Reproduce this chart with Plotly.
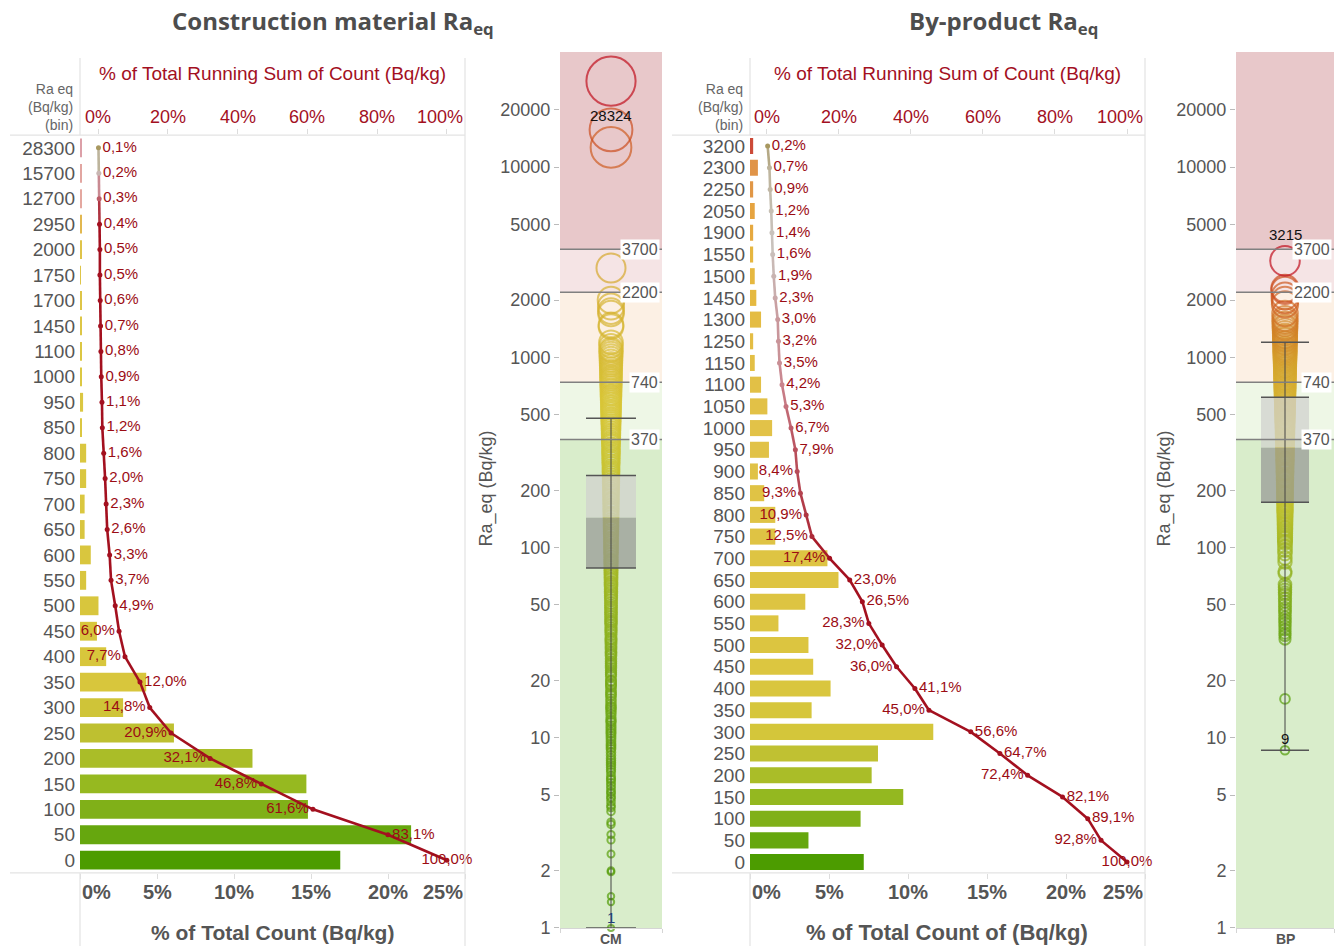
import numpy as np
import plotly.graph_objects as go
from plotly.colors import sample_colorscale

W, H = 1336, 946          # reference picture size (pixel coordinates used below)
FIG_H = 957               # rendered figure height (the capture is squeezed to 946)

# ---------------- DATA ----------------
# Construction material (CM) histogram, bins listed top -> bottom
cm_bins = [28300, 15700, 12700, 2950, 2000, 1750, 1700, 1450, 1100, 1000, 950, 850, 800,
           750, 700, 650, 600, 550, 500, 450, 400, 350, 300, 250, 200, 150, 100, 50, 0]
cm_pct = [0.1, 0.1, 0.1, 0.1, 0.1, 0.05, 0.1, 0.1, 0.1, 0.1, 0.2, 0.1, 0.4, 0.4, 0.3, 0.3,
          0.7, 0.4, 1.2, 1.1, 1.7, 4.3, 2.8, 6.1, 11.2, 14.7, 14.8, 21.5, 16.9]
cm_running = [0.1, 0.2, 0.3, 0.4, 0.5, 0.5, 0.6, 0.7, 0.8, 0.9, 1.1, 1.2, 1.6, 2.0, 2.3, 2.6,
              3.3, 3.7, 4.9, 6.0, 7.7, 12.0, 14.8, 20.9, 32.1, 46.8, 61.6, 83.1, 100.0]

# By-product (BP) histogram, bins listed top -> bottom
bp_bins = [3200, 2300, 2250, 2050, 1900, 1550, 1500, 1450, 1300, 1250, 1150, 1100, 1050, 1000,
           950, 900, 850, 800, 750, 700, 650, 600, 550, 500, 450, 400, 350, 300, 250, 200, 150,
           100, 50, 0]
bp_pct = [0.2, 0.5, 0.2, 0.3, 0.2, 0.2, 0.3, 0.4, 0.7, 0.2, 0.3, 0.7, 1.1, 1.4, 1.2, 0.5, 0.9,
          1.6, 1.6, 4.9, 5.6, 3.5, 1.8, 3.7, 4.0, 5.1, 3.9, 11.6, 8.1, 7.7, 9.7, 7.0, 3.7, 7.2]
bp_running = [0.2, 0.7, 0.9, 1.2, 1.4, 1.6, 1.9, 2.3, 3.0, 3.2, 3.5, 4.2, 5.3, 6.7, 7.9, 8.4,
              9.3, 10.9, 12.5, 17.4, 23.0, 26.5, 28.3, 32.0, 36.0, 41.1, 45.0, 56.6, 64.7, 72.4,
              82.1, 89.1, 92.8, 100.0]

# Individual Ra_eq values (Bq/kg)
cm_values = [1.0, 1.37, 1.47, 1.97, 2.0, 2.45, 2.9, 3.1, 3.5, 3.6, 4.1, 4.3, 4.6, 4.8, 5.1, 5.4,
             5.6, 6.0, 6.3, 6.6, 7.0, 7.4, 7.8, 8.1, 8.7, 9.1, 9.6, 10.2, 10.7, 11.3, 12.0, 12.4,
             13.3, 14.1, 14.6, 15.5, 16.6, 17.3, 18.5, 19.2, 19.8, 21.5, 22.6, 24.0, 25.2, 27.0,
             28.3, 30.1, 32.0, 33.5, 36.0, 37.8, 40.2, 42.0, 44.6, 47.0, 49.5, 53.0, 55.8, 59.0,
             62.4, 65.5, 70.0, 73.8, 78.0, 82.5, 86.0, 92.0, 97.0, 102, 108, 115, 121, 128, 135,
             144, 151, 160, 170, 179, 190, 200, 212, 223, 236, 250, 262, 279, 295, 312, 330, 352,
             368, 390, 412, 436, 460, 485, 515, 545, 578, 610, 640, 680, 720, 762, 800, 850, 905,
             960, 1020, 1050, 1080, 1100, 1150, 1200, 1450, 1480, 1700, 1750, 1850, 2000, 2950,
             12700, 15700, 28324,
             4.4, 4.9, 5.2, 5.8, 6.1, 6.8, 7.2, 7.6, 8.4, 8.9, 9.3, 9.9, 10.5, 11.0, 11.6, 12.2,
             12.8, 13.7, 14.4, 15.0, 16.0, 16.9, 17.8, 18.9, 20.0, 21.0, 22.0, 23.3, 24.6, 26.0,
             27.6, 29.2, 31.0, 32.8, 34.8, 36.9, 39.0, 41.0, 43.3, 45.8, 48.2, 51.0, 54.5, 57.5,
             60.5, 64.0, 68.0, 72.0, 76.0, 80.0, 84.5, 89.0, 94.5, 99.5, 105, 111, 118, 125, 131,
             139, 148, 156, 165, 175, 185, 195, 206, 218, 230, 243, 256, 271, 287, 304, 321, 340,
             360, 380, 400, 424, 448, 472, 500, 530, 560, 594, 626, 660, 700, 740, 780, 825, 875,
             930, 990]
bp_values = [8.6, 16.0, 33.0, 34.5, 35.5, 37.0, 38.5, 40.0, 41.5, 43.0, 45.0, 46.5, 48.0, 50.0,
             52.0, 54.0, 56.5, 58.0, 60.0, 62.0, 64.0, 73.0, 75.0, 84.0, 88.0, 93.0, 97.0, 101,
             106, 111, 116, 122, 127, 134, 140, 146, 153, 158, 166, 172, 180, 189, 196, 206, 214,
             225, 233, 246, 255, 269, 281, 290, 306, 317, 333, 345, 362, 375, 393, 407, 426, 442,
             462, 479, 501, 519, 542, 562, 587, 609, 636, 659, 688, 714, 745, 773, 806, 836, 873,
             905, 945, 980, 1020, 1060, 1100, 1150, 1200, 1250, 1300, 1380, 1450, 1550, 1600,
             1700, 1900, 2000, 2100, 2250, 2300, 3215,
             108, 113, 119, 125, 131, 137, 143, 150, 156, 162, 169, 176, 184, 192, 201, 210, 219,
             229, 240, 250, 262, 275, 286, 298, 311, 325, 339, 354, 368, 384, 400, 417, 434, 452,
             470, 490, 510, 530, 552, 575, 598, 622, 648, 674, 701, 730, 760, 790, 820, 855, 890,
             925, 962, 1000, 1040, 1080, 1120, 1180, 1230, 1280, 1340, 1420, 1500]

# Box-plot statistics (Bq/kg)
cm_box = {"low": 1.0, "q1": 78, "median": 144, "q3": 239, "high": 478}
bp_box = {"low": 8.6, "q1": 173, "median": 336, "q3": 616, "high": 1200}

# Reference thresholds (Bq/kg)
ref_lines = [370, 740, 2200, 3700]

# Axis tick labels
bar_ticks = [0, 5, 10, 15, 20, 25]
run_ticks = [0, 20, 40, 60, 80, 100]
log_ticks = [1, 2, 5, 10, 20, 50, 100, 200, 500, 1000, 2000, 5000, 10000, 20000]

# Which running-sum labels sit left / centered on their point
cm_left_bins = [450, 400, 300, 250, 200, 150, 100]
bp_left_bins = [900, 850, 800, 750, 700, 550, 500, 450, 350, 200, 50]
center_bins = [0]

# ---------------- STYLE HELPERS ----------------
GREY = "#555555"
RED_TXT = "#9b0c14"
RED_AX = "#a3101f"
FRAME = "#e3e3e3"


def hx(c):
    c = c.lstrip("#")
    return [int(c[i:i + 2], 16) for i in (0, 2, 4)]


def interp_colors(anchors, vals):
    xs = [a[0] for a in anchors]
    rgb = np.array([hx(a[1]) for a in anchors], dtype=float)
    out = []
    for v in vals:
        r, g, b = (np.interp(v, xs, rgb[:, k]) for k in range(3))
        out.append(f"rgb({int(r)},{int(g)},{int(b)})")
    return out


cm_bar_anchors = [(0, "#4c9c00"), (50, "#66a70e"), (100, "#80b018"), (150, "#96b920"),
                  (200, "#aabd28"), (250, "#bec030"), (300, "#cfc438"), (350, "#d8c63c"),
                  (1000, "#dcc843"), (2000, "#dfc44a"), (2950, "#e2b850"), (12700, "#e4a8a0"),
                  (28300, "#dca0a8")]
bp_bar_anchors = [(0, "#4c9c00"), (50, "#66a70e"), (100, "#80b018"), (150, "#94b820"),
                  (200, "#aabd28"), (250, "#c0c132"), (300, "#d4c63a"), (450, "#dcc640"),
                  (1000, "#e2c248"), (1500, "#e6b840"), (2050, "#e6a440"), (2300, "#e09448"),
                  (3200, "#cc4a38")]

point_scale = [[0.0, "#4e9a06"], [0.25, "#6aa512"], [0.40, "#9cb520"], [0.52, "#c4c22e"],
               [0.62, "#d8c636"], [0.72, "#d6b432"], [0.80, "#d4a42c"], [0.88, "#d27a26"],
               [0.94, "#cc5020"], [1.0, "#c0101e"]]
run_scale = [[0.0, "#a89860"], [0.45, "#c9c3bd"], [0.7, "#c9808a"], [1.0, "#a3101f"]]


def point_colors(vals):
    lv = np.log10(vals)
    t = (lv - lv.min()) / (lv.max() - lv.min())
    return sample_colorscale(point_scale, list(np.clip(t, 0, 1)))


def run_t(v, lo, hi):
    return float(np.clip((np.log(v) - np.log(lo)) / (np.log(hi) - np.log(lo)), 0, 1))


def px(x):
    return x / W


def py(y):
    return 1 - y / H


fig = go.Figure()
annotations = []
shapes = []


def note(**kw):
    kw.setdefault("showarrow", False)
    kw.setdefault("xanchor", "center")
    kw.setdefault("yanchor", "middle")
    annotations.append(kw)


def bar_panel(bins, pct, running, xa, xa2, ya, anchors, left_bins, lo, hi, x0, x1, run_rng):
    labels = [str(b) for b in bins]
    fig.add_trace(go.Bar(x=pct, y=labels, orientation="h", xaxis=xa, yaxis=ya, width=0.74,
                         marker=dict(color=interp_colors(anchors, bins), line_width=0),
                         hoverinfo="skip", showlegend=False))
    for i in range(len(running) - 1):
        mid = (running[i] + running[i + 1]) / 2
        col = sample_colorscale(run_scale, [run_t(mid, lo, hi)])[0]
        fig.add_trace(go.Scatter(x=running[i:i + 2], y=labels[i:i + 2], mode="lines",
                                 xaxis=xa2, yaxis=ya, line=dict(color=col, width=2.6),
                                 hoverinfo="skip", showlegend=False, cliponaxis=False))
    cols = sample_colorscale(run_scale, [run_t(v, lo, hi) for v in running])
    pos = []
    for b in bins:
        if b in center_bins:
            pos.append("middle center")
        elif b in left_bins:
            pos.append("middle left")
        else:
            pos.append("middle right")
    texts = [f"{v:.1f}%".replace(".", ",") for v in running]
    fig.add_trace(go.Scatter(x=running, y=labels, mode="markers+text", xaxis=xa2, yaxis=ya,
                             marker=dict(size=5, color=cols), text=texts, textposition=pos,
                             textfont=dict(size=15, color=RED_TXT),
                             hoverinfo="skip", showlegend=False, cliponaxis=False))
    # tick labels (kept inside the axis like the original)
    for i, t in enumerate(bar_ticks):
        anc = "left" if i == 0 else ("right" if i == len(bar_ticks) - 1 else "center")
        note(x=t, y=py(891), xref=xa, yref="paper", text=f"<b>{t}%</b>", xanchor=anc,
             font=dict(size=20, color=GREY))
    for i, t in enumerate(run_ticks):
        if i == len(run_ticks) - 1:
            note(x=run_rng[1], y=py(117), xref=xa2, yref="paper", text=f"{t}%",
                 xanchor="right", font=dict(size=18, color=RED_AX))
        else:
            note(x=t, y=py(117), xref=xa2, yref="paper", text=f"{t}%",
                 font=dict(size=18, color=RED_AX))
    cx = (x0 + x1) / 2
    note(x=px(cx), y=py(73), xref="paper", yref="paper",
         text="% of Total Running Sum of Count (Bq/kg)", font=dict(size=19, color=RED_AX))
    note(x=px(x0 - 5), y=py(107), xref="paper", yref="paper",
         text="Ra eq<br>(Bq/kg)<br>(bin)", xanchor="right", align="right",
         font=dict(size=14, color="#666666"))
    return labels


cm_labels = bar_panel(cm_bins, cm_pct, cm_running, "x", "x2", "y", cm_bar_anchors,
                      cm_left_bins, 0.1, 0.4, 80, 465, (-5.2, 105.2))
bp_labels = bar_panel(bp_bins, bp_pct, bp_running, "x3", "x4", "y3", bp_bar_anchors,
                      bp_left_bins, 0.2, 17, 750, 1145, (-4.7, 105.0))

note(x=px(272), y=py(932), xref="paper", yref="paper",
     text="<b>% of Total Count (Bq/kg)</b>", font=dict(size=21, color=GREY))
note(x=px(947), y=py(932), xref="paper", yref="paper",
     text="<b>% of Total Count of (Bq/kg)</b>", font=dict(size=22, color=GREY))

# ---------------- BOX / STRIP PANELS ----------------
LOG_TOP = 4.605
band_edges = [1, 370, 740, 2200, 3700, 10 ** LOG_TOP]
band_colors = ["#d9edcb", "#eef7e6", "#fcf0e4", "#f5e4e5", "#e8c8ca"]
HALF = 0.245


def box_panel(vals, box, xa, ya, name, max_label_shift, min_label_shift, min_color):
    vals = np.array(vals, dtype=float)
    for k in range(len(band_colors)):
        shapes.append(dict(type="rect", xref=f"{xa} domain", yref=ya, x0=0, x1=1,
                           y0=band_edges[k], y1=band_edges[k + 1],
                           fillcolor=band_colors[k], line_width=0, layer="below"))
    sizes = 2.5 + 3.6 * vals ** 0.25
    order = np.argsort(vals)
    v = vals[order]
    fig.add_trace(go.Scatter(x=np.zeros(len(v)), y=v, mode="markers", xaxis=xa, yaxis=ya,
                             marker=dict(symbol="circle-open", size=sizes[order],
                                         color=point_colors(v), line=dict(width=2)),
                             hoverinfo="skip", showlegend=False, cliponaxis=False))
    # box halves
    fig.add_trace(go.Scatter(x=[-HALF, HALF, HALF, -HALF, -HALF],
                             y=[box["q1"], box["q1"], box["median"], box["median"], box["q1"]],
                             fill="toself", fillcolor="rgba(150,152,148,0.72)", mode="lines",
                             line=dict(width=0), xaxis=xa, yaxis=ya, hoverinfo="skip",
                             showlegend=False))
    fig.add_trace(go.Scatter(x=[-HALF, HALF, HALF, -HALF, -HALF],
                             y=[box["median"], box["median"], box["q3"], box["q3"], box["median"]],
                             fill="toself", fillcolor="rgba(208,210,206,0.75)", mode="lines",
                             line=dict(width=0), xaxis=xa, yaxis=ya, hoverinfo="skip",
                             showlegend=False))
    fig.add_trace(go.Scatter(x=[0, 0], y=[box["low"], box["high"]], mode="lines", xaxis=xa,
                             yaxis=ya, line=dict(color="#444444", width=1), hoverinfo="skip",
                             showlegend=False))
    for key in ["low", "q1", "q3", "high"]:
        fig.add_trace(go.Scatter(x=[-HALF, HALF], y=[box[key], box[key]], mode="lines",
                                 xaxis=xa, yaxis=ya, line=dict(color="#555555", width=1.5),
                                 hoverinfo="skip", showlegend=False, cliponaxis=False))
    for r in ref_lines:
        fig.add_trace(go.Scatter(x=[-0.5, 0.5], y=[r, r], mode="lines", xaxis=xa, yaxis=ya,
                                 line=dict(color="#808080", width=1.4), hoverinfo="skip",
                                 showlegend=False))
        note(x=0.5, y=np.log10(r), xref=xa, yref=ya, text=str(r), xanchor="right", xshift=-2,
             bgcolor="white", borderpad=1, font=dict(size=16, color=GREY))
    vmax, vmin = vals.max(), vals.min()
    note(x=0, y=np.log10(vmax), xref=xa, yref=ya, text=f"{vmax:.0f}", yshift=max_label_shift,
         font=dict(size=15, color="#111111"))
    note(x=0, y=np.log10(vmin), xref=xa, yref=ya, text=f"{vmin:.0f}", yshift=min_label_shift,
         font=dict(size=15, color=min_color))
    # category label under the pane
    note(x=0, y=py(938), xref=xa, yref="paper", text=f"<b>{name}</b>",
         font=dict(size=14, color=GREY))


box_panel(cm_values, cm_box, "x5", "y5", "CM", -34, 10, "#1f3d7a")
box_panel(bp_values, bp_box, "x6", "y6", "BP", 26, 12, "#111111")

for xpos in (487, 1165):
    note(x=px(xpos), y=py(488), xref="paper", yref="paper", text="Ra_eq (Bq/kg)",
         textangle=-90, font=dict(size=18, color=GREY))

# Titles
note(x=px(333), y=py(22), xref="paper", yref="paper",
     text="Construction material Ra<sub>eq</sub>",
     font=dict(size=24, color="#4d4d4d", family="Open Sans", weight=700))
note(x=px(1003), y=py(22), xref="paper", yref="paper", text="By-product Ra<sub>eq</sub>",
     font=dict(size=24, color="#4d4d4d", family="Open Sans", weight=700))


# Frame lines (pane borders)
def pline(xa, ya, xb, yb):
    shapes.append(dict(type="line", xref="paper", yref="paper", x0=px(xa), y0=py(ya),
                       x1=px(xb), y1=py(yb), line=dict(color=FRAME, width=1.2)))


for (l, a, r) in [(10, 80, 465), (672, 750, 1145)]:
    pline(r, 58, r, 946)
    pline(a, 58, a, 135)
    pline(a, 872, a, 946)
    pline(l, 135, r, 135)
    pline(l, 872, r, 872)

# ---------------- AXES ----------------
bar_dom_y = [py(872), py(135)]
common_x = dict(showgrid=False, zeroline=False, showticklabels=False, ticks="outside",
                ticklen=5, tickcolor="#dddddd", showline=False, fixedrange=True)
cat_y = dict(type="category", categoryorder="array", showgrid=False, zeroline=False,
             ticks="", tickfont=dict(size=19, color=GREY), domain=bar_dom_y,
             ticklabelstandoff=4, tickmode="array")

log_y = dict(type="log", range=[0, LOG_TOP], domain=[py(927), py(52)], tickvals=log_ticks,
             ticktext=[str(t) for t in log_ticks], tickfont=dict(size=18, color=GREY),
             ticks="outside", ticklen=5, tickcolor="#bbbbbb", showgrid=False, zeroline=False,
             showline=False)
box_x = dict(range=[-0.5, 0.5], showgrid=False, zeroline=False, showticklabels=False,
             ticks="outside", tickvals=[-0.5, 0.5], ticklen=4, tickcolor="#d5d5d5",
             showline=True, linecolor="#d5d5d5")

fig.update_layout(
    width=W, height=FIG_H, margin=dict(l=0, r=0, t=0, b=0), autosize=False,
    paper_bgcolor="white", plot_bgcolor="rgba(0,0,0,0)",
    font=dict(family="Liberation Sans, Arial", color=GREY),
    showlegend=False,
    xaxis=dict(domain=[px(80), px(465)], range=[0, 25], anchor="y", tickvals=bar_ticks,
               **common_x),
    xaxis2=dict(overlaying="x", side="top", anchor="y", range=[-5.2, 105.2],
                tickvals=run_ticks, **common_x),
    yaxis=dict(anchor="x", categoryarray=cm_labels, tickvals=cm_labels, ticktext=cm_labels,
               range=[len(cm_labels) - 0.5, -0.5], **cat_y),
    xaxis3=dict(domain=[px(750), px(1145)], range=[0, 25], anchor="y3", tickvals=bar_ticks,
                **common_x),
    xaxis4=dict(overlaying="x3", side="top", anchor="y3", range=[-4.7, 105.0],
                tickvals=run_ticks, **common_x),
    yaxis3=dict(anchor="x3", categoryarray=bp_labels, tickvals=bp_labels, ticktext=bp_labels,
                range=[len(bp_labels) - 0.5, -0.5], **cat_y),
    xaxis5=dict(domain=[px(560), px(662)], anchor="y5", **box_x),
    yaxis5=dict(anchor="x5", **log_y),
    xaxis6=dict(domain=[px(1236), px(1334)], anchor="y6", **box_x),
    yaxis6=dict(anchor="x6", **log_y),
    annotations=annotations, shapes=shapes,
)

post = ("document.documentElement.style.overflow='hidden';"
        "document.body.style.margin='0';document.body.style.overflow='hidden';"
        "var d=document.getElementById('{plot_id}');"
        "d.style.position='fixed';d.style.left='0px';d.style.top='0px';")
fig.write_html("out.html", config={"displayModeBar": False, "responsive": False},
               post_script=post)
